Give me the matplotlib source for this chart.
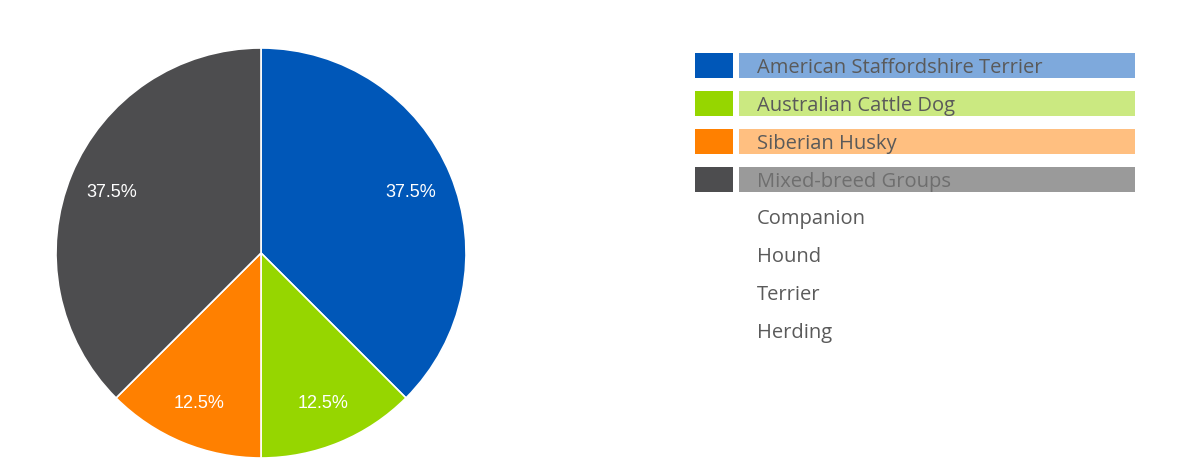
import matplotlib
matplotlib.use("Agg")
import matplotlib.pyplot as plt
from matplotlib.patches import Rectangle

# ---------------------------------------------------------------------------
# Data
# ---------------------------------------------------------------------------
BREEDS = [
    "American Staffordshire Terrier",
    "Australian Cattle Dog",
    "Siberian Husky",
    "Mixed-breed Groups",
    "Companion",
    "Hound",
    "Terrier",
    "Herding",
]
COUNTS = [3, 1, 1, 3, 0, 0, 0, 0]

# ---------------------------------------------------------------------------
# Style
# ---------------------------------------------------------------------------
COLORS = ["#0057B8", "#96D600", "#FF8000", "#4D4D4F"]
LIGHT = ["#7EA9DC", "#CBE981", "#FFBF80", "#9A9A9A"]
TEXT_C = "#5A5A5A"

W, H = 1200, 477
fig = plt.figure(figsize=(W / 100, H / 100), dpi=100)
fig.patch.set_facecolor("white")

# pie: center (261, 254) px, radius 205 px
cx, cy, r = 261, 254, 205
ax = fig.add_axes([(cx - r) / W, (H - cy - r) / H, 2 * r / W, 2 * r / H])

vals = [v for v in COUNTS if v > 0]
wedges, texts, autotexts = ax.pie(
    vals, colors=COLORS[:len(vals)], startangle=90, counterclock=False,
    radius=1, autopct=lambda p: f"{p:.1f}%", pctdistance=0.79,
    wedgeprops=dict(edgecolor="white", linewidth=1.2),
    textprops=dict(color="white", fontsize=13, family="Liberation Sans"),
)
# pie() resets the limits, so fix them afterwards
ax.set_xlim(-1, 1)
ax.set_ylim(-1, 1)
ax.set_aspect("equal")
ax.axis("off")

# legend drawn by hand in pixel coordinates
lg = fig.add_axes([0, 0, 1, 1], facecolor="none")
lg.set_xlim(0, W)
lg.set_ylim(H, 0)
lg.axis("off")

row_h = 37.8
for i, name in enumerate(BREEDS):
    yc = 66.7 + i * row_h
    k = sum(1 for v in COUNTS[:i] if v > 0)
    if COUNTS[i] > 0:
        lg.add_patch(Rectangle((695, yc - 12.5), 38, 25, color=COLORS[k], lw=0))
        lg.add_patch(Rectangle((739, yc - 12.5), 396, 25, color=LIGHT[k], lw=0))
    tc = "#6E6E6E" if (COUNTS[i] > 0 and k == 3) else TEXT_C
    lg.text(757, yc + 1.5, name, fontsize=14.5, family="Open Sans", color=tc,
            ha="left", va="center")

fig.savefig("out.png", dpi=100)
